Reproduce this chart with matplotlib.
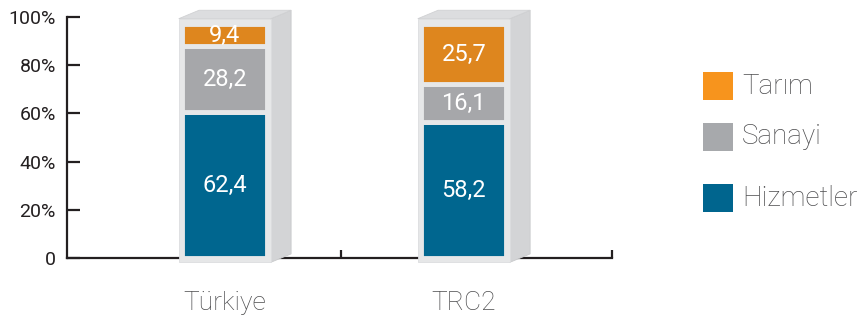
import matplotlib.pyplot as plt
from matplotlib.patches import Polygon, Rectangle

regions = ['Türkiye', 'TRC2']
sectors = ['Hizmetler', 'Sanayi', 'Tarım']
values = {
    'Hizmetler': [62.4, 58.2],
    'Sanayi': [28.2, 16.1],
    'Tarım': [9.4, 25.7],
}
bar_colors = ['#00668F', '#A6A7AA', '#DE861E']
legend_colors = ['#00658E', '#A7A9AC', '#F7941D']
y_ticks = [0, 20, 40, 60, 80, 100]
y_labels = ['0', '20%', '40%', '60%', '80%', '100%']

plt.rcParams['font.family'] = ['Roboto', 'DejaVu Sans']

fig = plt.figure(figsize=(8.65, 3.2), dpi=100)
ax = fig.add_axes([67 / 865, 62 / 320, (612 - 67) / 865, (258 - 17) / 320])
ax.set_xlim(-0.66, 1.62)
ax.set_ylim(0, 100)

x = range(len(regions))
box_w = 0.385
seg_w = 0.355
dx, dy = 0.085, 3.5
scale = 0.97

# grey "3D" box behind each stack
for xi in x:
    left, right = xi - box_w / 2, xi + box_w / 2
    bot, top = -1.8, 99.3
    ax.add_patch(Polygon([(right, bot), (right + dx, bot + dy), (right + dx, top + dy), (right, top)],
                         closed=True, fc='#D3D4D6', ec='#C9CACC', lw=0.6, clip_on=False, zorder=1))
    ax.add_patch(Polygon([(left, top), (left + dx, top + dy), (right + dx, top + dy), (right, top)],
                         closed=True, fc='#DCDDDF', ec='#D0D1D3', lw=0.6, clip_on=False, zorder=1))
    ax.add_patch(Rectangle((left, bot), box_w, top - bot, fc='#E6E7E8', ec='#DCDDDF', lw=0.6,
                           clip_on=False, zorder=1))

bottom = [0.0] * len(regions)
for name, col in zip(sectors, bar_colors):
    vals = [v * scale for v in values[name]]
    ax.bar(x, vals, seg_w, bottom=bottom, color=col, edgecolor='#E6E7E8', linewidth=3.5,
           zorder=2, clip_on=False)
    for xi, b, v, raw in zip(x, bottom, vals, values[name]):
        ax.text(xi, b + v / 2, f'{raw:.1f}'.replace('.', ','), ha='center', va='center',
                color='white', fontsize=17, zorder=3)
    bottom = [b + v for b, v in zip(bottom, vals)]

for s in ['top', 'right']:
    ax.spines[s].set_visible(False)
for s in ['left', 'bottom']:
    ax.spines[s].set_color('#231F20')
    ax.spines[s].set_linewidth(1.6)
    ax.spines[s].set_zorder(0.5)

ax.set_yticks(y_ticks)
ax.set_yticklabels(y_labels, fontsize=14, color='#231F20')
ax.tick_params(axis='y', direction='in', length=9, width=1.6, color='#231F20', pad=8)
ax.set_xticks(list(x))
ax.set_xticklabels(regions, fontsize=19, fontweight='light', color='#4D4D4F')
ax.tick_params(axis='x', length=0, pad=24)
ax.set_xticks([0.485, 1.62], minor=True)
ax.tick_params(axis='x', which='minor', direction='in', length=6, width=1.6, color='#231F20')

# legend
items = [('Tarım', legend_colors[2], 86), ('Sanayi', legend_colors[1], 137), ('Hizmetler', legend_colors[0], 198)]
for label, col, yc in items:
    fig.patches.append(Rectangle((703 / 865, 1 - (yc + 14) / 320), 30 / 865, 28 / 320,
                                 transform=fig.transFigure, fc=col, ec='none'))
    fig.text(742 / 865, 1 - yc / 320, label, fontsize=20, fontweight='light', color='#4D4D4F',
             va='center', ha='left')

fig.savefig('out.png', dpi=100)
